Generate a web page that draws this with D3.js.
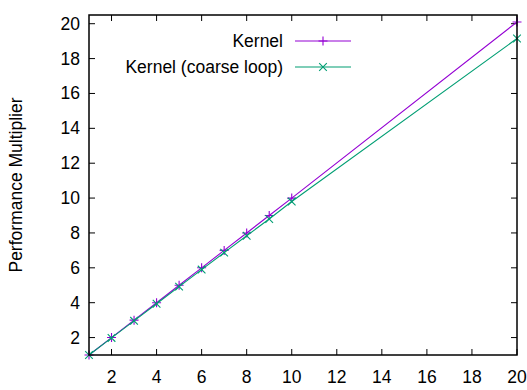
<!DOCTYPE html>
<html>
<head>
<meta charset="utf-8">
<script src="https://cdn.jsdelivr.net/npm/d3@7"></script>
<style>
  body { margin: 0; background: #fff; }
  svg text { font-family: "Liberation Sans", Arial, sans-serif; fill: #000; }
</style>
</head>
<body>
<svg id="chart" width="527" height="390"></svg>
<script>
const xs = [1, 2, 3, 4, 5, 6, 7, 8, 9, 10, 20];
const kernel = [1, 2, 3, 4, 5, 6, 7, 8, 9, 10, 20.1];
const kernelCoarse = [1, 1.98, 2.96, 3.94, 4.92, 5.9, 6.87, 7.84, 8.8, 9.8, 19.15];
const xTicks = [2, 4, 6, 8, 10, 12, 14, 16, 18, 20];
const yTicks = [2, 4, 6, 8, 10, 12, 14, 16, 18, 20];
const seriesNames = ["Kernel", "Kernel (coarse loop)"];
const seriesColors = ["#9400d3", "#009e73"];

const svg = d3.select("svg#chart");
const m = { left: 89, top: 15, right: 517, bottom: 355 };

const x = d3.scaleLinear().domain([1, 20]).range([m.left, m.right]);
const y = d3.scaleLinear().domain([1, 20.5]).range([m.bottom, m.top]);

const fontSize = "17.5px";
const tickLen = 6;

// ticks (inward, mirrored)
const gTicks = svg.append("g").attr("stroke", "#000").attr("stroke-width", 1);
xTicks.forEach(t => {
  gTicks.append("line").attr("x1", x(t)).attr("x2", x(t)).attr("y1", m.bottom).attr("y2", m.bottom - tickLen);
  gTicks.append("line").attr("x1", x(t)).attr("x2", x(t)).attr("y1", m.top).attr("y2", m.top + tickLen);
});
yTicks.forEach(t => {
  gTicks.append("line").attr("y1", y(t)).attr("y2", y(t)).attr("x1", m.left).attr("x2", m.left + tickLen);
  gTicks.append("line").attr("y1", y(t)).attr("y2", y(t)).attr("x1", m.right).attr("x2", m.right - tickLen);
});

svg.append("g").selectAll("text").data(xTicks).join("text")
  .attr("x", d => x(d)).attr("y", 383)
  .attr("text-anchor", "middle").style("font-size", fontSize)
  .text(d => d);

svg.append("g").selectAll("text").data(yTicks).join("text")
  .attr("x", 80).attr("y", d => y(d) + 6)
  .attr("text-anchor", "end").style("font-size", fontSize)
  .text(d => d);

svg.append("text")
  .attr("transform", `translate(22,${(m.top + m.bottom) / 2}) rotate(-90)`)
  .attr("text-anchor", "middle").style("font-size", fontSize)
  .text("Performance Multiplier");

// series
const allSeries = [kernel, kernelCoarse];
const line = d3.line().x((d, i) => x(xs[i])).y(d => y(d));

allSeries.forEach((vals, k) => {
  const g = svg.append("g").attr("stroke", seriesColors[k]).attr("fill", "none");
  g.append("path").datum(vals).attr("d", line).attr("stroke-width", 1.1);
  vals.forEach((v, i) => {
    drawMarker(g, k, x(xs[i]), y(v));
  });
});

function drawMarker(g, k, cx, cy) {
  const s = 4.5;
  if (k === 0) {
    g.append("path").attr("d", `M${cx - s},${cy}H${cx + s}M${cx},${cy - s}V${cy + s}`).attr("stroke-width", 1.1);
  } else {
    const d = s * 0.85;
    g.append("path").attr("d", `M${cx - d},${cy - d}L${cx + d},${cy + d}M${cx - d},${cy + d}L${cx + d},${cy - d}`).attr("stroke-width", 1.1);
  }
}

// legend
const legendY = [41, 67];
seriesNames.forEach((name, k) => {
  svg.append("text").attr("x", 283).attr("y", legendY[k] + 6)
    .attr("text-anchor", "end").style("font-size", fontSize).text(name);
  const g = svg.append("g").attr("stroke", seriesColors[k]).attr("fill", "none");
  g.append("line").attr("x1", 295).attr("x2", 351).attr("y1", legendY[k]).attr("y2", legendY[k]).attr("stroke-width", 1.1);
  drawMarker(g, k, 323, legendY[k]);
});

// border
svg.append("rect")
  .attr("x", m.left).attr("y", m.top)
  .attr("width", m.right - m.left).attr("height", m.bottom - m.top)
  .attr("fill", "none").attr("stroke", "#000").attr("stroke-width", 1.5);
</script>
</body>
</html>
